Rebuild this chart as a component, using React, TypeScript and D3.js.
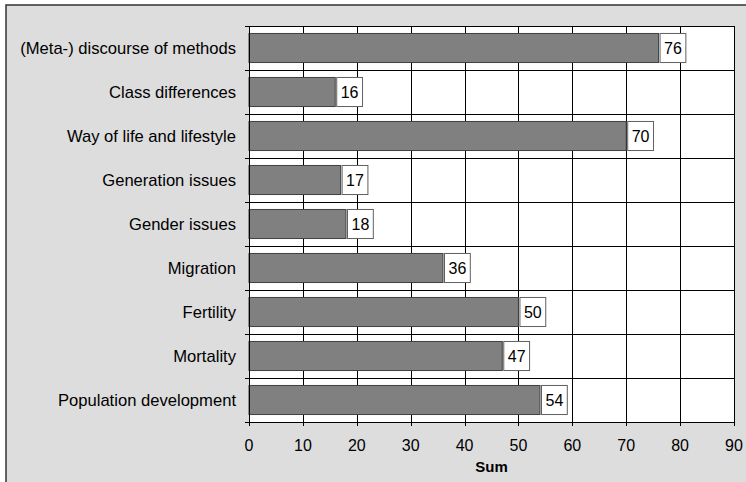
import React from "react";
import * as d3 from "d3";

const categories = [
  "(Meta-) discourse of methods",
  "Class differences",
  "Way of life and lifestyle",
  "Generation issues",
  "Gender issues",
  "Migration",
  "Fertility",
  "Mortality",
  "Population development",
];
const values = [76, 16, 70, 17, 18, 36, 50, 47, 54];
const xTicks = [0, 10, 20, 30, 40, 50, 60, 70, 80, 90];
const xTitle = "Sum";

const W = 746;
const H = 482;
const plot = { left: 249, right: 734, top: 26, bottom: 422 };
const FONT = "'Liberation Sans', Arial, sans-serif";
const FS = 16;

export default function App() {
  const x = d3.scaleLinear().domain([0, 90]).range([plot.left, plot.right]);
  const y = d3
    .scaleBand<string>()
    .domain(categories)
    .range([plot.top, plot.bottom])
    .paddingInner(0.34)
    .paddingOuter(0.17);
  const step = y.step();
  const boundaries = d3.range(categories.length + 1).map((i) => plot.top + i * step);

  return (
    <svg
      width={W}
      height={H}
      style={{ position: "absolute", left: 0, top: 0, display: "block" }}
      fontFamily={FONT}
    >
      <rect x={0} y={0} width={W} height={H} fill="#ffffff" />
      <rect x={6} y={5} width={W + 10} height={H + 10} fill="#dddddd" stroke="#333333" strokeWidth={1.5} />
      <rect
        x={plot.left}
        y={plot.top}
        width={plot.right - plot.left}
        height={plot.bottom - plot.top}
        fill="#ffffff"
      />
      {/* vertical grid */}
      {xTicks.map((t) => (
        <line
          key={"vg" + t}
          x1={Math.round(x(t)) + 0.5}
          x2={Math.round(x(t)) + 0.5}
          y1={plot.top}
          y2={plot.bottom + 4}
          stroke="#000"
          strokeWidth={1}
        />
      ))}
      {/* horizontal grid at band boundaries */}
      {boundaries.map((b, i) => (
        <line
          key={"hg" + i}
          x1={plot.left - 4}
          x2={plot.right}
          y1={Math.round(b) + 0.5}
          y2={Math.round(b) + 0.5}
          stroke="#000"
          strokeWidth={1}
        />
      ))}
      {/* bars */}
      {categories.map((c, i) => (
        <rect
          key={"b" + c}
          x={x(0)}
          y={y(c)!}
          width={x(values[i]) - x(0)}
          height={y.bandwidth()}
          fill="#808080"
          stroke="#404040"
          strokeWidth={1}
        />
      ))}
      {/* value labels */}
      {categories.map((c, i) => {
        const label = String(values[i]);
        const bx = x(values[i]) + 1.5;
        const bw = label.length * 8.9 + 8;
        return (
          <g key={"l" + c}>
            <rect
              x={bx}
              y={y(c)!}
              width={bw}
              height={y.bandwidth()}
              fill="#ffffff"
              stroke="#606060"
              strokeWidth={1}
            />
            <text
              x={bx + bw / 2}
              y={y(c)! + y.bandwidth() / 2}
              dy="0.36em"
              textAnchor="middle"
              fontSize={FS}
              fill="#000"
            >
              {label}
            </text>
          </g>
        );
      })}
      {/* axis lines */}
      <line x1={plot.left + 0.5} x2={plot.left + 0.5} y1={plot.top} y2={plot.bottom} stroke="#000" />
      <line x1={plot.left} x2={plot.right + 1} y1={plot.bottom + 0.5} y2={plot.bottom + 0.5} stroke="#000" />
      <line x1={plot.right + 0.5} x2={plot.right + 0.5} y1={plot.top} y2={plot.bottom} stroke="#000" />
      <line x1={plot.left} x2={plot.right} y1={plot.top + 0.5} y2={plot.top + 0.5} stroke="#000" />
      {/* category labels */}
      {categories.map((c) => (
        <text
          key={"c" + c}
          x={236}
          y={y(c)! + y.bandwidth() / 2}
          dy="0.36em"
          textAnchor="end"
          fontSize={16.6}
          fill="#000"
        >
          {c}
        </text>
      ))}
      {/* x tick labels */}
      {xTicks.map((t) => (
        <text key={"xt" + t} x={x(t)} y={451} textAnchor="middle" fontSize={FS} fill="#000">
          {t}
        </text>
      ))}
      <text
        x={(plot.left + plot.right) / 2}
        y={472}
        textAnchor="middle"
        fontSize={15}
        fontWeight="bold"
        fill="#000"
      >
        {xTitle}
      </text>
    </svg>
  );
}
